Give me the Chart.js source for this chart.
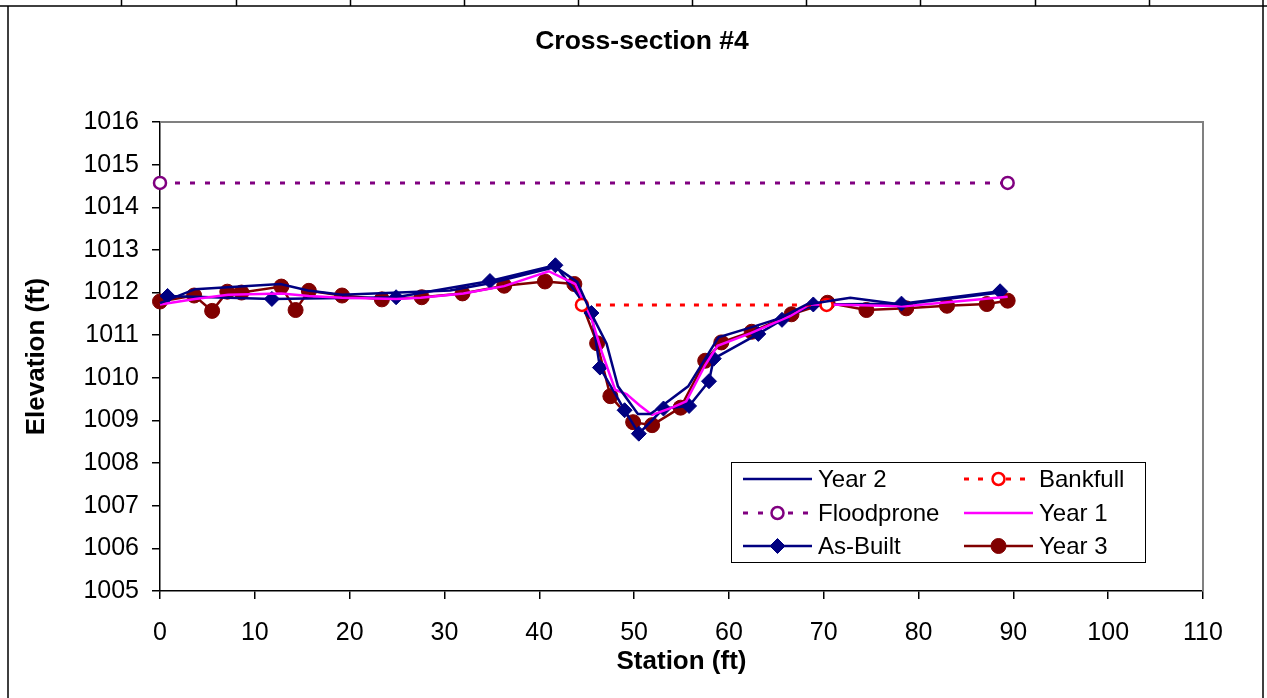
<!DOCTYPE html>
<html>
<head>
<meta charset="utf-8">
<script src="https://cdn.jsdelivr.net/npm/chart.js@4.4.1/dist/chart.umd.min.js"></script>
<style>
  html, body { margin: 0; padding: 0; background: #fff; }
  #wrap { width: 1267px; height: 698px; }
</style>
</head>
<body>
<div id="wrap"><canvas id="xsChart" width="1267" height="698"></canvas></div>
<script>
const chartTitle = 'Cross-section #4';
const xTicks = [0, 10, 20, 30, 40, 50, 60, 70, 80, 90, 100, 110];
const yTicks = [1005, 1006, 1007, 1008, 1009, 1010, 1011, 1012, 1013, 1014, 1015, 1016];

const year2Station = [0, 3.7, 12.7, 15.6, 19.2, 30.6, 34.8, 41.7, 44.0, 45.5, 47.1, 48.3, 50.4, 51.7, 53.0, 55.7, 58.9, 62.6, 65.4, 68.2, 72.8, 78.2, 88.6];
const year2Elev = [1011.75, 1012.08, 1012.2, 1012.05, 1011.95, 1012.05, 1012.22, 1012.6, 1012.25, 1011.5, 1010.8, 1009.8, 1009.15, 1009.15, 1009.35, 1009.8, 1010.95, 1011.2, 1011.4, 1011.72, 1011.88, 1011.72, 1012.0];

const bankfullStation = [44.5, 70.3];
const bankfullElev = [1011.71, 1011.71];

const floodproneStation = [0, 89.4];
const floodproneElev = [1014.57, 1014.57];

const year1Station = [0, 3.7, 7.2, 12.8, 15.7, 19.2, 24.9, 27.5, 32.0, 36.3, 41.0, 43.8, 45.5, 46.6, 48.0, 49.2, 50.6, 51.9, 54.0, 55.5, 57.5, 58.8, 62.3, 66.5, 68.5, 70.4, 78.5, 89.4];
const year1Elev = [1011.72, 1011.85, 1011.95, 1011.98, 1011.92, 1011.88, 1011.85, 1011.88, 1011.98, 1012.15, 1012.5, 1012.2, 1011.4, 1010.6, 1009.72, 1009.62, 1009.35, 1009.13, 1009.3, 1009.45, 1010.3, 1010.75, 1011.05, 1011.45, 1011.72, 1011.72, 1011.68, 1011.9];

const asBuiltStation = [0.8, 11.8, 24.9, 34.8, 41.7, 45.5, 46.4, 49.0, 50.5, 53.1, 55.8, 57.9, 58.4, 63.1, 65.6, 68.9, 78.2, 88.6];
const asBuiltElev = [1011.92, 1011.85, 1011.89, 1012.27, 1012.64, 1011.52, 1010.24, 1009.24, 1008.69, 1009.28, 1009.34, 1009.92, 1010.45, 1011.03, 1011.36, 1011.72, 1011.74, 1012.03];

const year3Station = [0, 3.6, 5.5, 7.1, 8.6, 12.8, 14.3, 15.7, 19.2, 23.4, 27.6, 31.9, 36.3, 40.6, 43.7, 46.1, 47.5, 49.9, 51.9, 54.9, 57.5, 59.2, 62.4, 66.6, 70.4, 74.5, 78.7, 83.0, 87.2, 89.4];
const year3Elev = [1011.79, 1011.93, 1011.57, 1012.02, 1012.0, 1012.14, 1011.59, 1012.04, 1011.93, 1011.84, 1011.89, 1011.98, 1012.16, 1012.26, 1012.2, 1010.81, 1009.57, 1008.96, 1008.89, 1009.3, 1010.4, 1010.83, 1011.08, 1011.49, 1011.76, 1011.59, 1011.63, 1011.69, 1011.73, 1011.81];

const colors = {
    navy: '#000080',
    magenta: '#FF00FF',
    darkRed: '#800000',
    red: '#FF0000',
    purple: '#800080',
    plotBorder: '#808080',
};

const FONT = '"Liberation Sans", Arial, sans-serif';

function pts(xs, ys) {
    return xs.map((x, i) => ({ x: x, y: ys[i] }));
}

function line(label, xs, ys, color, extra) {
    return Object.assign({
        label: label,
        data: pts(xs, ys),
        borderColor: color,
        backgroundColor: color,
        borderWidth: 2.5,
        pointRadius: 0,
        tension: 0,
        fill: false,
        clip: false,
    }, extra || {});
}

// Excel-style frame, the spreadsheet cell lines above it, and the title
const framePlugin = {
    id: 'frame',
    beforeDraw(chart) {
        const c = chart.ctx;
        c.save();
        c.fillStyle = '#fff';
        c.fillRect(0, 0, chart.width, chart.height);
        c.strokeStyle = '#000';
        c.lineWidth = 1.5;
        c.beginPath();
        c.moveTo(0, 6); c.lineTo(chart.width, 6);
        [121, 236, 350, 464, 578, 692, 806, 920, 1035, 1149].forEach(x => {
            c.moveTo(x + 0.5, 0); c.lineTo(x + 0.5, 6);
        });
        c.moveTo(8, 6); c.lineTo(8, chart.height);
        c.moveTo(1263, 0); c.lineTo(1263, chart.height);
        c.stroke();

        c.fillStyle = '#000';
        c.font = 'bold 26.5px ' + FONT;
        c.textAlign = 'center';
        c.textBaseline = 'middle';
        c.fillText(chartTitle, 642, 42);
        c.restore();
    },
    beforeDatasetsDraw(chart) {
        const a = chart.chartArea;
        const c = chart.ctx;
        c.save();
        c.strokeStyle = colors.plotBorder;
        c.lineWidth = 2;
        c.beginPath();
        c.moveTo(a.left, a.top);
        c.lineTo(a.right, a.top);
        c.lineTo(a.right, a.bottom);
        c.stroke();
        c.restore();
    }
};

// two-column legend box inside the plot, like Excel's
const legendBoxPlugin = {
    id: 'legendBox',
    afterDraw(chart) {
        const c = chart.ctx;
        const box = { left: 731, top: 462, right: 1145, bottom: 562 };
        c.save();
        c.fillStyle = '#fff';
        c.fillRect(box.left, box.top, box.right - box.left, box.bottom - box.top);
        c.strokeStyle = '#000';
        c.lineWidth = 1;
        c.strokeRect(box.left + 0.5, box.top + 0.5, box.right - box.left, box.bottom - box.top);
        const cols = [743, 964];
        const rows = [479, 513, 546];
        const sampleW = 69;
        chart.data.datasets.forEach((ds, i) => {
            const x0 = cols[i % 2];
            const y = rows[Math.floor(i / 2)];
            c.strokeStyle = ds.borderColor;
            c.lineWidth = ds.borderWidth;
            c.setLineDash(ds.borderDash || []);
            c.beginPath();
            c.moveTo(x0, y);
            c.lineTo(x0 + sampleW, y);
            c.stroke();
            c.setLineDash([]);
            if (ds.pointRadius > 0) {
                c.fillStyle = ds.pointBackgroundColor;
                c.strokeStyle = ds.pointBorderColor;
                c.lineWidth = ds.pointBorderWidth;
                Chart.helpers.drawPoint(c, {
                    pointStyle: ds.pointStyle,
                    radius: ds.pointRadius,
                    borderWidth: ds.pointBorderWidth,
                }, x0 + sampleW / 2, y);
            }
            c.fillStyle = '#000';
            c.font = '24px ' + FONT;
            c.textBaseline = 'middle';
            c.textAlign = 'left';
            c.fillText(ds.label, x0 + sampleW + 6, y + 1);
        });
        c.restore();
    }
};

const ctx = document.getElementById('xsChart').getContext('2d');

window.xsChart = new Chart(ctx, {
    type: 'line',
    data: {
        datasets: [
            line('Year 2', year2Station, year2Elev, colors.navy),
            line('Bankfull', bankfullStation, bankfullElev, colors.red, {
                borderWidth: 3,
                borderDash: [5, 9],
                pointRadius: 6,
                pointStyle: 'circle',
                pointBackgroundColor: '#fff',
                pointBorderColor: colors.red,
                pointBorderWidth: 2.5,
            }),
            line('Floodprone', floodproneStation, floodproneElev, colors.purple, {
                borderWidth: 3,
                borderDash: [5, 10],
                pointRadius: 6,
                pointStyle: 'circle',
                pointBackgroundColor: '#fff',
                pointBorderColor: colors.purple,
                pointBorderWidth: 2.5,
            }),
            line('Year 1', year1Station, year1Elev, colors.magenta),
            line('As-Built', asBuiltStation, asBuiltElev, colors.navy, {
                pointRadius: 7.5,
                pointStyle: 'rectRot',
                pointBackgroundColor: colors.navy,
                pointBorderColor: colors.navy,
                pointBorderWidth: 1,
            }),
            line('Year 3', year3Station, year3Elev, colors.darkRed, {
                pointRadius: 7.5,
                pointStyle: 'circle',
                pointBackgroundColor: colors.darkRed,
                pointBorderColor: colors.darkRed,
                pointBorderWidth: 1,
            }),
        ]
    },
    options: {
        responsive: false,
        animation: false,
        devicePixelRatio: 1,
        layout: {
            padding: { left: 0, right: 64, top: 122, bottom: 0 }
        },
        scales: {
            x: {
                type: 'linear',
                min: 0,
                max: 110,
                afterBuildTicks: (scale) => { scale.ticks = xTicks.map(v => ({ value: v })); },
                afterFit: (scale) => { scale.height = 107; },
                grid: {
                    drawOnChartArea: false,
                    drawTicks: true,
                    tickLength: 8,
                    color: '#000',
                    lineWidth: 1.5,
                },
                border: { color: '#000', width: 1.5 },
                ticks: {
                    color: '#000',
                    padding: 19,
                    maxRotation: 0,
                    autoSkip: false,
                    font: { family: FONT, size: 25 },
                    callback: (v) => String(v),
                },
                title: {
                    display: true,
                    text: 'Station (ft)',
                    color: '#000',
                    font: { family: FONT, size: 26, weight: 'bold' },
                    padding: { top: 0, bottom: 21 },
                }
            },
            y: {
                type: 'linear',
                min: 1005,
                max: 1016,
                afterBuildTicks: (scale) => { scale.ticks = yTicks.map(v => ({ value: v })); },
                afterFit: (scale) => { scale.width = 160; },
                grid: {
                    drawOnChartArea: false,
                    drawTicks: true,
                    tickLength: 8,
                    color: '#000',
                    lineWidth: 1.5,
                },
                border: { color: '#000', width: 1.5 },
                ticks: {
                    color: '#000',
                    padding: 13,
                    autoSkip: false,
                    font: { family: FONT, size: 25 },
                    callback: (v) => String(v),
                },
                title: {
                    display: true,
                    text: 'Elevation (ft)',
                    color: '#000',
                    font: { family: FONT, size: 26, weight: 'bold' },
                    padding: { top: 21, bottom: 0 },
                }
            }
        },
        plugins: {
            legend: { display: false },
            tooltip: { enabled: false },
            title: { display: false }
        }
    },
    plugins: [framePlugin, legendBoxPlugin]
});
</script>
</body>
</html>
